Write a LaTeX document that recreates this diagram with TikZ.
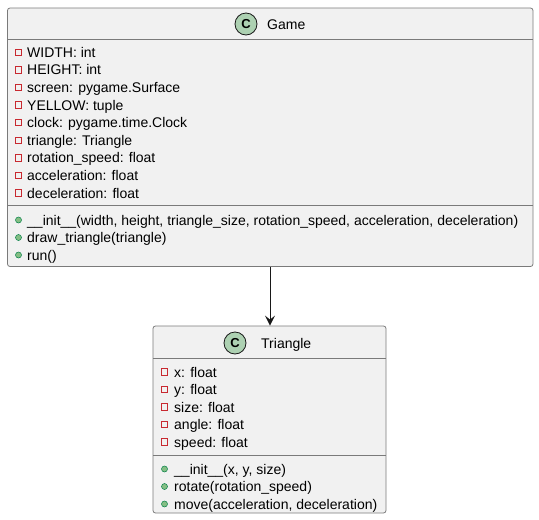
\documentclass[tikz,border=0pt]{standalone}
\usepackage{fontspec}
\setmainfont{Liberation Sans}
\usetikzlibrary{arrows.meta}
\definecolor{boxfill}{HTML}{F1F1F1}
\definecolor{boxline}{HTML}{181818}
\definecolor{frameline}{HTML}{7A7A7A}
\definecolor{classicon}{HTML}{ADD1B2}
\definecolor{privline}{HTML}{C82930}
\definecolor{pubfill}{HTML}{84BE84}
\definecolor{publine}{HTML}{038048}
\tikzset{
  classbox/.style={draw=frameline, line width=0.8pt, fill=boxfill, rounded corners=2.5pt, inner sep=0pt},
  divider/.style={draw=frameline, line width=0.8pt},
  member/.style={anchor=base west, inner sep=0pt, font=\fontsize{14}{16}\selectfont},
  title/.style={anchor=base west, inner sep=0pt, font=\fontsize{14}{16}\selectfont},
  classmark/.style={circle, draw=boxline, line width=0.8pt, fill=classicon, minimum size=22pt, inner sep=0pt, font=\bfseries\fontsize{13}{13}\selectfont},
  privmark/.style={draw=privline, line width=1pt, fill=none, minimum size=6.5pt, inner sep=0pt},
  pubmark/.style={circle, draw=publine, line width=0.5pt, fill=pubfill, minimum size=6pt, inner sep=0pt},
  assoc/.style={draw=boxline, line width=1pt, -{Stealth[length=10pt,width=10pt,inset=4pt]}}
}
\begin{document}
\begin{tikzpicture}[x=1pt,y=-1pt]
\useasboundingbox (0,0) rectangle (539,520);

% Game class
\node[classbox, minimum width=525.5pt, minimum height=258.5pt] (game) at (270.25,137.25) {};
\draw[divider] (7.5,39) -- (533,39);
\draw[divider] (7.5,205) -- (533,205);
\node[classmark] (gameC) at (246,24) {C};
\node[title] (gameT) at (267,29) {Game};
\foreach \i/\t in {0/{WIDTH: int},1/{HEIGHT: int},2/{screen: pygame.Surface},3/{YELLOW: tuple},4/{clock: pygame.time.Clock},5/{triangle: Triangle},6/{rotation\_speed: float},7/{acceleration: float},8/{deceleration: float}} {
  \pgfmathsetmacro{\yy}{52.3+17.6*\i}
  \node[privmark] (gameA\i) at (18.5,\yy) {};
  \node[member] (gameAt\i) at (27,\yy+5) {\t};
}
\foreach \i/\t in {0/{\_\_init\_\_(width, height, triangle\_size, rotation\_speed, acceleration, deceleration)},1/{draw\_triangle(triangle)},2/{run()}} {
  \pgfmathsetmacro{\yy}{220+17.5*\i}
  \node[pubmark] (gameM\i) at (18.5,\yy) {};
  \node[member] (gameMt\i) at (27,\yy+5) {\t};
}

% Triangle class
\node[classbox, minimum width=233pt, minimum height=187pt] (tri) at (269.5,419.5) {};
\draw[divider] (153,358) -- (386,358);
\draw[divider] (153,455) -- (386,455);
\node[classmark] (triC) at (235,343) {C};
\node[title] (triT) at (261,348) {Triangle};
\foreach \i/\t in {0/{x: float},1/{y: float},2/{size: float},3/{angle: float},4/{speed: float}} {
  \pgfmathsetmacro{\yy}{372+17.5*\i}
  \node[privmark] (triA\i) at (164.5,\yy) {};
  \node[member] (triAt\i) at (174,\yy+5) {\t};
}
\foreach \i/\t in {0/{\_\_init\_\_(x, y, size)},1/{rotate(rotation\_speed)},2/{move(acceleration, deceleration)}} {
  \pgfmathsetmacro{\yy}{469+17.5*\i}
  \node[pubmark] (triM\i) at (164.5,\yy) {};
  \node[member] (triMt\i) at (174,\yy+5) {\t};
}

% Association
\draw[assoc] (game.south -| 270,0) -- (tri.north -| 270,0);
\end{tikzpicture}
\end{document}
